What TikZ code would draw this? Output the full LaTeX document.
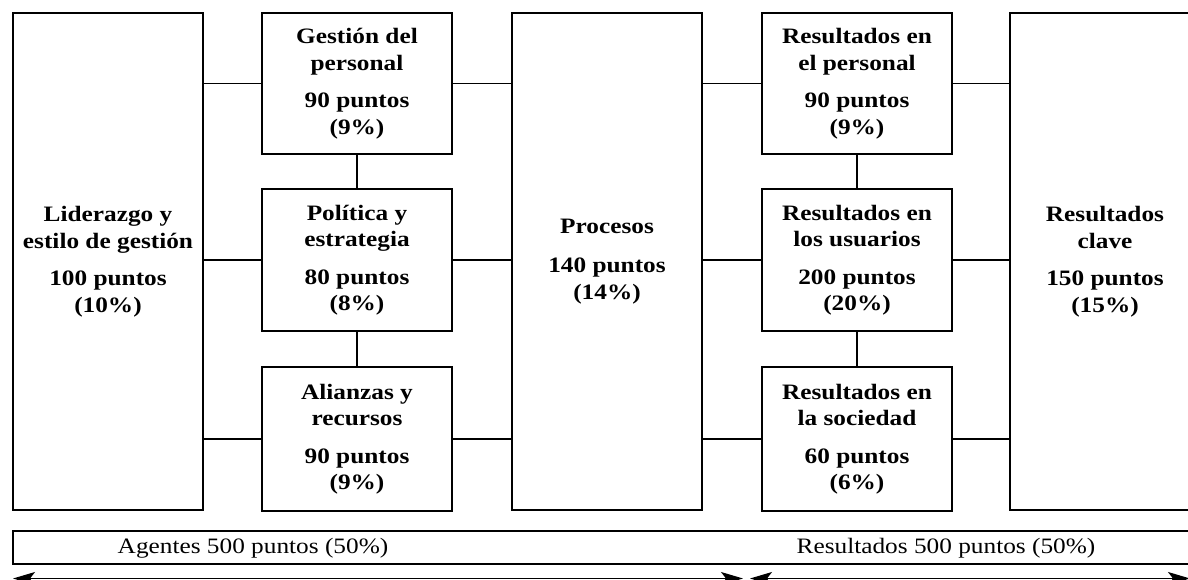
\documentclass[tikz,border=0pt]{standalone}
\usepackage{fontspec}
\setmainfont{Liberation Serif}[FakeStretch=1.15]
\usetikzlibrary{arrows.meta}
\tikzstyle{caja}=[draw=black, line width=2pt, minimum width=190pt, inner sep=0pt, align=center, font=\fontsize{22}{26.5}\selectfont\bfseries]
\tikzstyle{alta}=[caja, minimum height=497pt]
\tikzstyle{baja}=[caja, minimum height=141pt]
\tikzstyle{enlace}=[line width=1.5pt]
\tikzstyle{flecha}=[line width=1.3pt, {Stealth[length=22pt,width=13pt,inset=5pt]}-{Stealth[length=22pt,width=13pt,inset=5pt]}]

\begin{document}
\begin{tikzpicture}[x=1pt, y=-1pt,
    every node/.style={font=\fontsize{22}{26.5}\selectfont}]

      \useasboundingbox (0,0) rectangle (1188,580);
      \clip (0,0) rectangle (1188,580);

      % agentes
      \node[alta] (lid) at (108,261.5) {Liderazgo y\\estilo de gesti\'on\\[11pt]100 puntos\\(10\%)};
      \node[baja] (ges) at (357,83.5) {Gesti\'on del\\personal\\[11pt]90 puntos\\(9\%)};
      \node[baja] (pol) at (357,260) {Pol\'itica y\\estrategia\\[11pt]80 puntos\\(8\%)};
      \node[baja, minimum height=144pt] (ali) at (357,439) {Alianzas y\\recursos\\[11pt]90 puntos\\(9\%)};
      \node[alta] (proc) at (607,261.5) {Procesos\\[13pt]140 puntos\\(14\%)};

      % resultados
      \node[baja] (rper) at (857,83.5) {Resultados en\\el personal\\[11pt]90 puntos\\(9\%)};
      \node[baja] (rusu) at (857,260) {Resultados en\\los usuarios\\[11pt]200 puntos\\(20\%)};
      \node[baja, minimum height=144pt] (rsoc) at (857,439) {Resultados en\\la sociedad\\[11pt]60 puntos\\(6\%)};
      \node[alta] (rcla) at (1105,261.5) {Resultados\\clave\\[11pt]150 puntos\\(15\%)};

      \foreach \p in {ges, pol, ali}
      {
        \draw[enlace] (\p.west) -- (\p.west -| lid.east);
        \draw[enlace] (\p.east) -- (\p.east -| proc.west);
      }
      \foreach \p in {rper, rusu, rsoc}
      {
        \draw[enlace] (\p.west) -- (\p.west -| proc.east);
        \draw[enlace] (\p.east) -- (\p.east -| rcla.west);
      }
      \draw[enlace] (ges.south) -- (pol.north);
      \draw[enlace] (pol.south) -- (ali.north);
      \draw[enlace] (rper.south) -- (rusu.north);
      \draw[enlace] (rusu.south) -- (rsoc.north);

      % barra inferior
      \node[draw=black, line width=1.6pt, minimum width=1200pt, minimum height=33pt,
            inner sep=0pt, anchor=west] (barra) at (12,547.5) {};
      \node (agentes) at (253,548) {Agentes 500 puntos (50\%)};
      \node (result) at (946,548) {Resultados 500 puntos (50\%)};

      \coordinate (a1) at (13,578.5);
      \coordinate (a2) at (743,578.5);
      \coordinate (b1) at (750,578.5);
      \coordinate (b2) at (1190,578.5);
      \draw[flecha] (a1) -- (a2);
      \draw[flecha] (b1) -- (b2);

    \end{tikzpicture}
\end{document}
